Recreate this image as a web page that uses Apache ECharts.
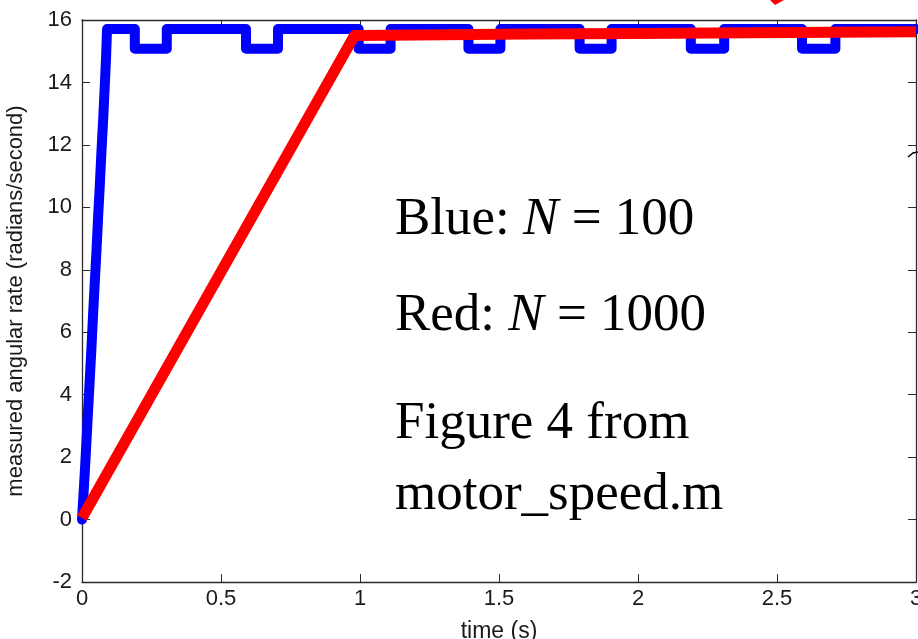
<!DOCTYPE html>
<html lang="en" style="height: 100%">
<head>
  <meta charset="utf-8">
  <title>motor_speed.m - Figure 4</title>
</head>
<body style="height: 100%; margin: 0; background: #fff;">
  <div id="container" style="width: 918px; height: 639px;"></div>

  <script src="https://cdn.jsdelivr.net/npm/echarts@6/dist/echarts.min.js"></script>
  <script type="text/javascript">
    // N = 100 (blue): fast ramp, then flat with quantisation dips
    const blueT = [0, 0.004, 0.01, 0.016, 0.022, 0.028, 0.034, 0.04, 0.046, 0.052, 0.058, 0.064, 0.07, 0.076, 0.082, 0.087, 0.09,
                   0.19, 0.19, 0.305, 0.305, 0.59, 0.59, 0.705, 0.705, 0.995, 0.995, 1.11, 1.11,
                   1.39, 1.39, 1.505, 1.505, 1.79, 1.79, 1.905, 1.905, 2.19, 2.19, 2.31, 2.31,
                   2.59, 2.59, 2.71, 2.71, 3];
    const blueV = [0, 0.6, 1.5, 2.5, 3.5, 4.5, 5.5, 6.6, 7.6, 8.6, 9.7, 10.7, 11.8, 12.8, 13.9, 14.9, 15.71,
                   15.71, 15.08, 15.08, 15.71, 15.71, 15.08, 15.08, 15.71, 15.71, 15.08, 15.08, 15.71,
                   15.71, 15.08, 15.08, 15.71, 15.71, 15.08, 15.08, 15.71, 15.71, 15.08, 15.08, 15.71,
                   15.71, 15.08, 15.08, 15.71, 15.71];

    // N = 1000 (red): slow ramp to 1 s, then nearly flat
    const redT = [0, 0.98, 1.2, 1.6, 2.0, 2.4, 3];
    const redV = [0.05, 15.5, 15.52, 15.55, 15.57, 15.59, 15.62];

    const xTicks = [0, 0.5, 1, 1.5, 2, 2.5, 3];
    const yTicks = [-2, 0, 2, 4, 6, 8, 10, 12, 14, 16];

    const zip = (a, b) => a.map((v, i) => [v, b[i]]);

    const dom = document.getElementById('container');
    const myChart = echarts.init(dom, null, { renderer: 'canvas' });

    const sans = 'Arial, "Liberation Sans", sans-serif';
    const serif = '"Times New Roman", "Liberation Serif", serif';
    const axisCol = '#2b2b2b';

    const note = (txt, y) => ({
      type: 'text',
      left: 395,
      top: y,
      style: {
        text: txt,
        font: '53px ' + serif,
        fill: '#000',
        rich: {
          i: { fontFamily: serif, fontSize: 53, fontStyle: 'italic', fill: '#000' }
        }
      }
    });

    const boxAxis = {
      axisLine: { onZero: false, lineStyle: { color: axisCol, width: 1.3 } },
      axisTick: { inside: true, length: 8, lineStyle: { color: axisCol } },
      splitLine: { show: false }
    };

    const option = {
      animation: false,
      grid: { left: 82, right: 2, top: 20, bottom: 57, outerBoundsMode: 'none' },
      xAxis: [Object.assign({
        type: 'value',
        min: xTicks[0], max: xTicks[xTicks.length - 1], interval: 0.5,
        name: 'time (s)', nameLocation: 'middle', nameGap: 38,
        nameTextStyle: { fontFamily: sans, fontSize: 23, color: '#1a1a1a' },
        axisLabel: { fontFamily: sans, fontSize: 22, color: '#1a1a1a', margin: 6 }
      }, boxAxis), Object.assign({
        type: 'value', position: 'top',
        min: xTicks[0], max: xTicks[xTicks.length - 1], interval: 0.5,
        axisLabel: { show: false }
      }, boxAxis)],
      yAxis: [Object.assign({
        type: 'value',
        min: yTicks[0], max: yTicks[yTicks.length - 1], interval: 2,
        name: 'measured angular rate (radians/second)', nameLocation: 'middle', nameGap: 55,
        nameTextStyle: { fontFamily: sans, fontSize: 22, color: '#1a1a1a' },
        axisLabel: { fontFamily: sans, fontSize: 22, color: '#1a1a1a', margin: 10 }
      }, boxAxis), Object.assign({
        type: 'value', position: 'right',
        min: yTicks[0], max: yTicks[yTicks.length - 1], interval: 2,
        axisLabel: { show: false }
      }, boxAxis)],
      series: [{
        name: 'N = 100',
        type: 'line',
        data: zip(blueT, blueV),
        showSymbol: false,
        lineStyle: { color: '#0000ff', width: 10, cap: 'round', join: 'round' },
        z: 2
      }, {
        name: 'N = 1000',
        type: 'line',
        data: zip(redT, redV),
        showSymbol: false,
        lineStyle: { color: '#ff0000', width: 11, cap: 'butt', join: 'round' },
        z: 3
      }],
      graphic: [
        note('Blue: {i|N} = 100', 194),
        note('Red: {i|N} = 1000', 290),
        note('Figure 4 from', 398),
        note('motor_speed.m', 469),
        { type: 'polygon', shape: { points: [[770, 0], [784, 0], [775, 5]] },
          style: { fill: '#ff0000' } },
        { type: 'polyline', shape: { points: [[908, 157], [913, 153], [918, 152]] },
          style: { stroke: '#000', lineWidth: 1.5, fill: null } }
      ]
    };

    myChart.setOption(option);
    window.addEventListener('resize', myChart.resize);
  </script>
</body>
</html>
